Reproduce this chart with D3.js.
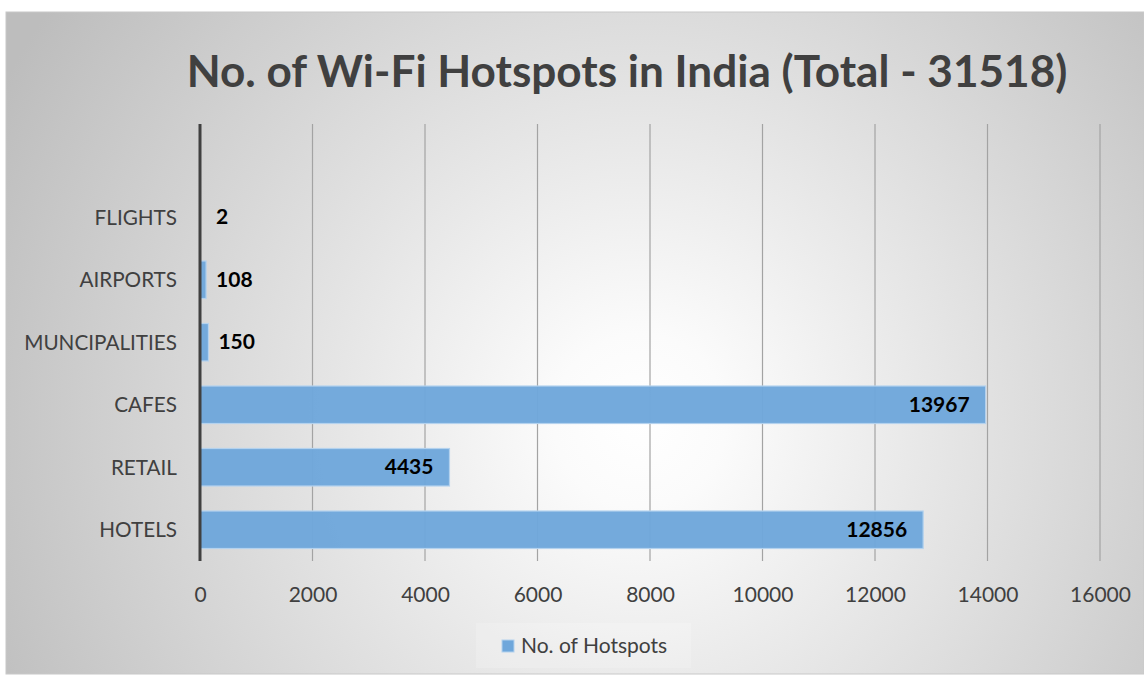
<!DOCTYPE html>
<html>
<head>
<meta charset="utf-8">
<script src="https://cdn.jsdelivr.net/npm/d3@7"></script>
<style>
  html, body { margin: 0; padding: 0; background: #fff; }
  text { font-family: Lato, "Open Sans", sans-serif; }
</style>
</head>
<body>
<div id="chart"></div>
<script>
// Our canvas
const width = 1144,
      height = 675

// Data
const categories = ['FLIGHTS', 'AIRPORTS', 'MUNCIPALITIES', 'CAFES', 'RETAIL', 'HOTELS']
const hotspots = [2, 108, 150, 13967, 4435, 12856]
const xTicks = [0, 2000, 4000, 6000, 8000, 10000, 12000, 14000, 16000]
const title = 'No. of Wi-Fi Hotspots in India (Total - 31518)'
const seriesName = 'No. of Hotspots'

let svg = d3.select('#chart')
  .append('svg')
  .attr('width', width)
  .attr('height', height)

// radial background
let defs = svg.append('defs')
let grad = defs.append('radialGradient')
  .attr('id', 'bg')
  .attr('gradientUnits', 'userSpaceOnUse')
  .attr('cx', 640).attr('cy', 420).attr('r', 720)
grad.append('stop').attr('offset', '0%').attr('stop-color', '#ffffff')
grad.append('stop').attr('offset', '12%').attr('stop-color', '#fbfbfb')
grad.append('stop').attr('offset', '100%').attr('stop-color', '#bdbdbd')

svg.append('rect')
  .attr('x', 6).attr('y', 12)
  .attr('width', width - 6).attr('height', 662)
  .attr('fill', 'url(#bg)')
  .attr('stroke', '#c8c8c8')
  .attr('stroke-width', 1)

// Scales
let x = d3.scaleLinear()
  .domain([0, 16000])
  .range([200, 1100])

let y = d3.scaleBand()
  .domain(categories)
  .range([186, 561])
  .paddingInner(0.4)
  .paddingOuter(0.2)

const plotTop = 124, plotBottom = 561

// gridlines
svg.append('g')
  .selectAll('line')
  .data(xTicks.slice(1))
  .enter()
  .append('line')
  .attr('x1', d => x(d)).attr('x2', d => x(d))
  .attr('y1', plotTop).attr('y2', plotBottom)
  .attr('stroke', '#a3a3a3')
  .attr('stroke-width', 1.2)

// bars
svg.append('g')
  .selectAll('rect')
  .data(hotspots)
  .enter()
  .append('rect')
  .attr('x', x(0))
  .attr('y', (d, i) => y(categories[i]))
  .attr('width', d => x(d) - x(0))
  .attr('height', y.bandwidth())
  .attr('fill', '#6fa7db')
  .attr('fill-opacity', 0.97)
  .attr('stroke', '#b4d2ee')
  .attr('stroke-width', 1.2)

// value labels
svg.append('g')
  .selectAll('text')
  .data(hotspots)
  .enter()
  .append('text')
  .attr('x', d => d > 1000 ? x(d) - 16 : Math.max(x(d) + 10, x(0) + 16))
  .attr('y', (d, i) => y(categories[i]) + y.bandwidth() / 2 + 7)
  .attr('text-anchor', d => d > 1000 ? 'end' : 'start')
  .attr('font-size', 21)
  .attr('font-weight', 'bold')
  .attr('fill', '#000')
  .text(d => d)

// x axis labels
let xAxis = d3.axisBottom(x).tickValues(xTicks).tickFormat(d3.format('d')).tickSize(0).tickPadding(0)
let gx = svg.append('g')
  .attr('transform', `translate(0,${plotBottom})`)
  .call(xAxis)
gx.select('.domain').remove()
gx.selectAll('text')
  .attr('dy', 0)
  .attr('y', 41)
  .attr('font-size', 21)
  .attr('font-family', 'Lato, sans-serif')
  .attr('fill', '#404040')

// y axis labels
let yAxis = d3.axisLeft(y).tickSize(0).tickPadding(0)
let gy = svg.append('g')
  .attr('transform', 'translate(177,0)')
  .call(yAxis)
gy.select('.domain').remove()
gy.selectAll('text')
  .attr('dy', '0.35em')
  .attr('font-size', 20.7)
  .attr('font-family', 'Lato, sans-serif')
  .attr('fill', '#404040')

// category axis line
svg.append('line')
  .attr('x1', x(0)).attr('x2', x(0))
  .attr('y1', plotTop).attr('y2', plotBottom)
  .attr('stroke', '#404040')
  .attr('stroke-width', 3)

// title
let t = svg.append('text')
  .attr('x', 627)
  .attr('y', 87)
  .attr('text-anchor', 'middle')
  .attr('font-size', 40)
  .attr('font-weight', 'bold')
  .attr('fill', '#404040')
  .text(title)
let tw = t.node().getComputedTextLength()
t.attr('font-size', 40 * 881 / tw)

// legend
svg.append('rect')
  .attr('x', 476).attr('y', 623)
  .attr('width', 215).attr('height', 45)
  .attr('fill', '#ffffff')
  .attr('fill-opacity', 0.18)
svg.append('rect')
  .attr('x', 502).attr('y', 640)
  .attr('width', 12).attr('height', 12)
  .attr('fill', '#6fa7db')
  .attr('stroke', '#b4d2ee')
svg.append('text')
  .attr('x', 521)
  .attr('y', 653)
  .attr('font-size', 21)
  .attr('fill', '#404040')
  .text(seriesName)
</script>
</body>
</html>
